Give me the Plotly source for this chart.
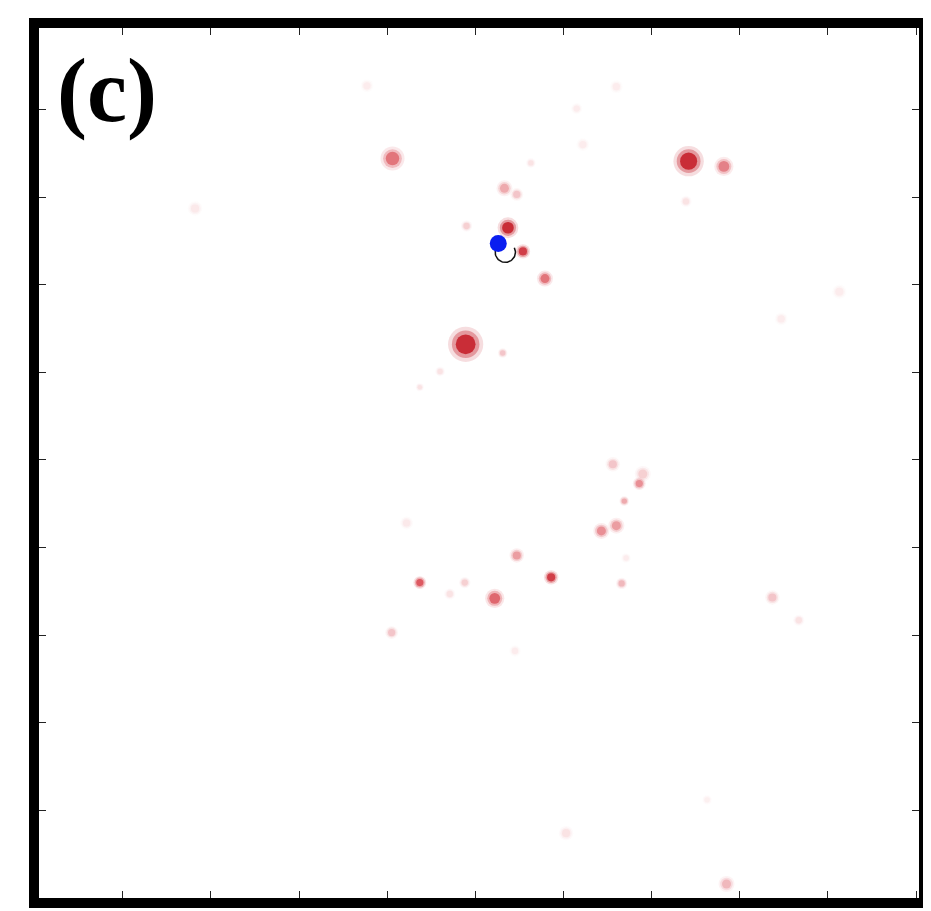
import numpy as np
import plotly.graph_objects as go

# red spots: position (axis units), strength 0-1 and spot diameter in px
spot_x = [4.06, 7.42, 7.82, 5.33, 5.47, 5.63, 5.37, 5.54, 5.79, 4.90,
          4.89, 5.31, 4.60, 4.37, 6.56, 6.90, 6.86, 6.69, 6.60, 6.43,
          5.47, 5.86, 4.37, 5.22, 4.88, 4.71, 6.66, 4.05, 4.22, 5.45,
          8.37, 8.67, 7.85, 6.03, 1.82, 3.77, 6.15, 6.22, 6.60, 7.39,
          8.47, 9.13, 6.71, 7.63]
spot_y = [8.44, 8.41, 8.35, 8.10, 8.03, 8.39, 7.65, 7.38, 7.07, 7.67,
          6.32, 6.22, 6.01, 5.83, 4.95, 4.84, 4.73, 4.53, 4.25, 4.19,
          3.91, 3.66, 3.60, 3.42, 3.60, 3.47, 3.59, 3.03, 4.28, 2.82,
          3.43, 3.17, 0.16, 0.74, 7.87, 9.27, 9.01, 8.60, 9.26, 7.95,
          6.61, 6.92, 3.88, 1.12]
spot_level = [0.60, 0.95, 0.55, 0.40, 0.30, 0.15, 0.95, 0.85, 0.60, 0.25,
              0.95, 0.30, 0.15, 0.15, 0.30, 0.25, 0.50, 0.40, 0.45, 0.50,
              0.45, 0.85, 0.70, 0.65, 0.25, 0.15, 0.35, 0.30, 0.12, 0.10,
              0.30, 0.15, 0.35, 0.15, 0.12, 0.10, 0.10, 0.10, 0.10, 0.15,
              0.10, 0.10, 0.10, 0.08]
spot_size = [15, 19, 12, 10, 8, 6, 13, 9, 10, 7,
             22, 6, 6, 5, 9, 10, 8, 6, 10, 10,
             9, 9, 8, 12, 7, 7, 7, 8, 8, 7,
             9, 7, 10, 9, 9, 8, 7, 8, 8, 7,
             8, 9, 6, 6]

source_x = [5.26]
source_y = [7.47]

arc_center = (5.34, 7.37)
arc_radius = 0.115
arc_angles = np.linspace(np.pi * 0.95, np.pi * 2.15, 40)

reds = [[0.0, "#ffffff"], [0.3, "#f2c0c4"], [0.7, "#d94a52"], [1.0, "#c0101c"]]

fig = go.Figure()

# fuzzy spots: two soft halos under a core
for scale, alpha in [(1.6, 0.15), (1.25, 0.35), (0.9, 0.85)]:
    fig.add_trace(go.Scatter(
        x=spot_x, y=spot_y, mode="markers", hoverinfo="skip",
        marker=dict(size=[s * scale for s in spot_size], color=spot_level,
                    colorscale=reds, cmin=0, cmax=1, opacity=alpha,
                    line_width=0),
    ))

fig.add_trace(go.Scatter(
    x=arc_center[0] + arc_radius * np.cos(arc_angles),
    y=arc_center[1] + arc_radius * np.sin(arc_angles),
    mode="lines", line=dict(color="#111111", width=1.5), hoverinfo="skip",
))
fig.add_trace(go.Scatter(
    x=source_x, y=source_y, mode="markers",
    marker=dict(size=17, color="#0a1ef0", line_width=0),
))

axis = dict(
    dtick=1, tick0=0, showticklabels=False, showgrid=False,
    zeroline=False, ticks="inside", ticklen=7, tickwidth=1,
    tickcolor="#222222", showline=True, linewidth=10, linecolor="black",
    mirror="allticks",
)

fig.update_layout(
    width=931, height=900,
    margin=dict(l=31, r=11, t=10, b=10),
    plot_bgcolor="white", paper_bgcolor="white",
    showlegend=False,
    xaxis=dict(axis, range=[0.049, 10.034]),
    yaxis=dict(axis, range=[0.0, 9.93]),
    annotations=[dict(
        text="<b>(c)</b>", xref="paper", yref="paper", x=0.018, y=0.9875,
        xanchor="left", yanchor="top", showarrow=False,
        font=dict(family="Liberation Serif", size=90, color="black"),
    )],
)

fig.write_html("out.html")
